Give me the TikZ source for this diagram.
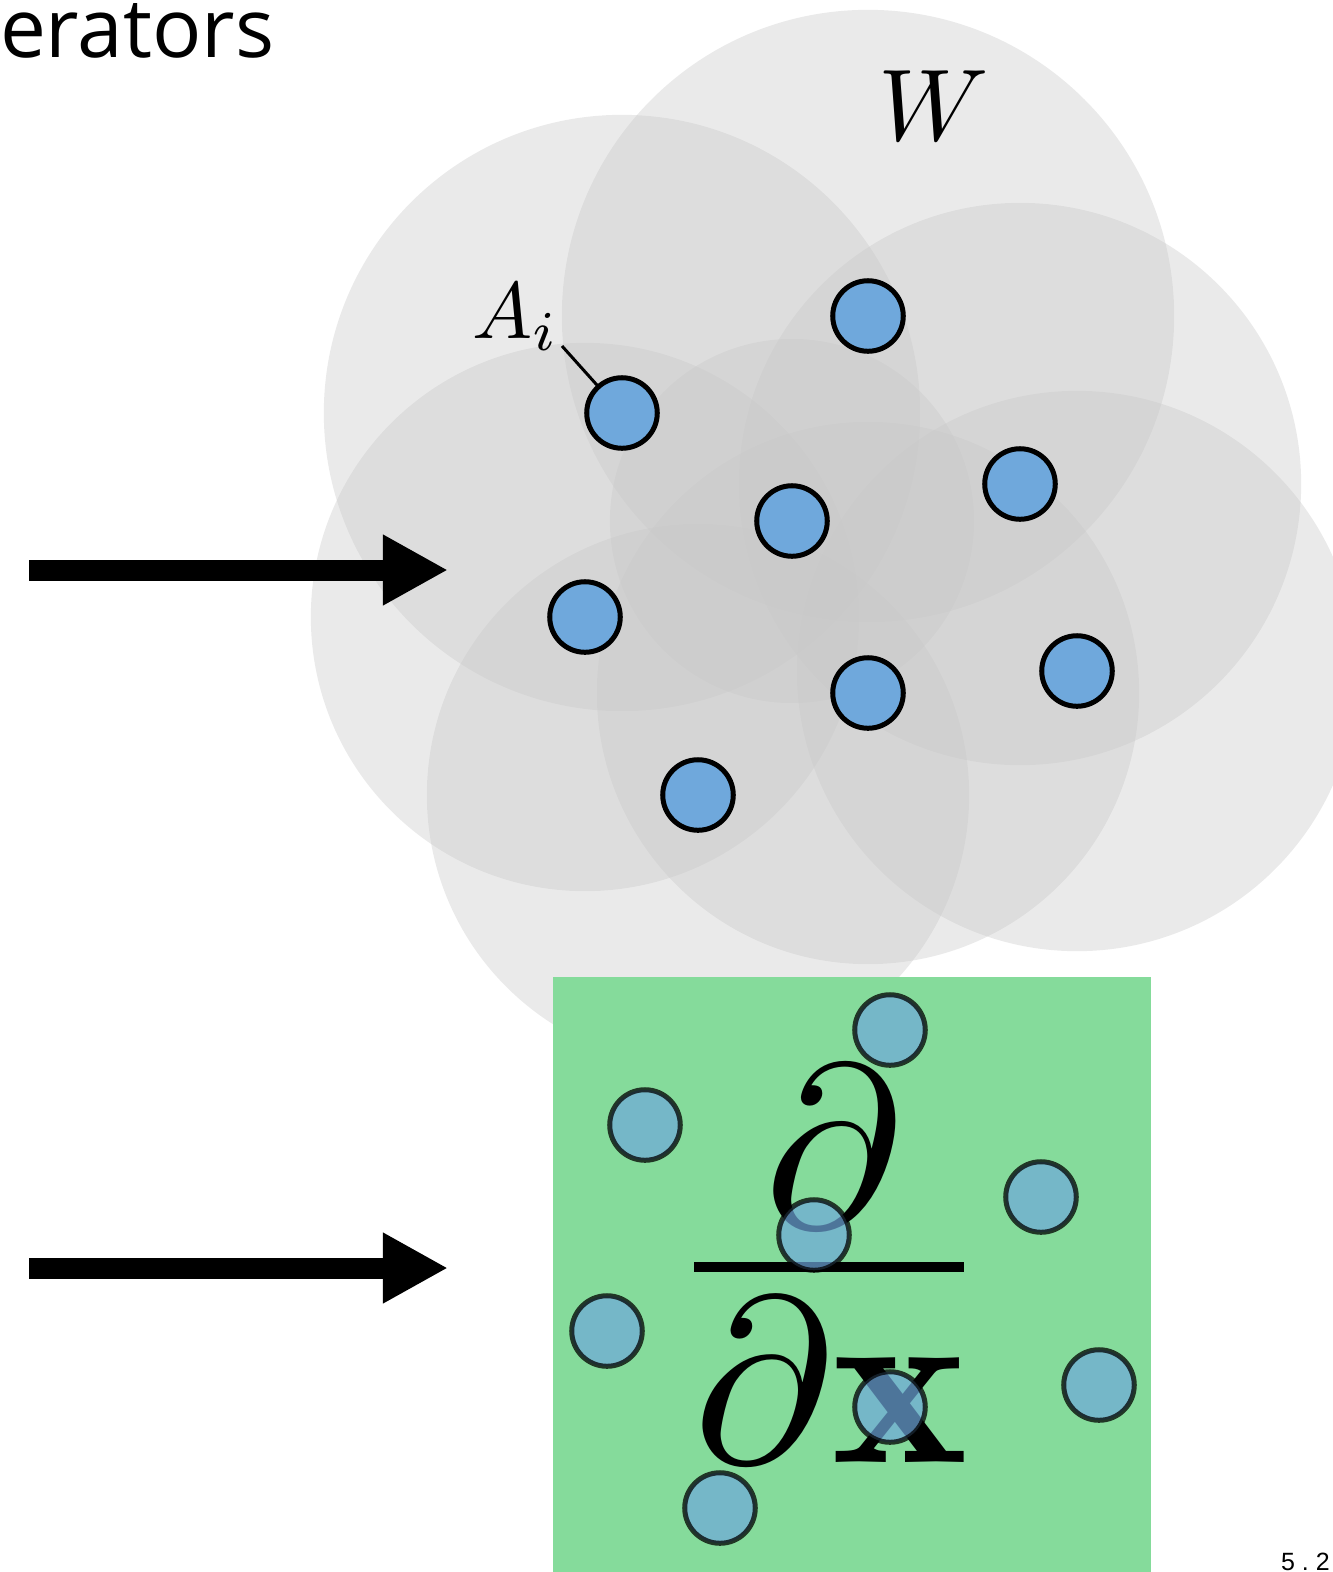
\documentclass[tikz,border=0pt]{standalone}
\usepackage{graphicx}
\usepackage{fontspec}
\newfontfamily\opensans{Open Sans}
\newfontfamily\libsans{Liberation Sans}
\usetikzlibrary{arrows.meta}
\definecolor{dotblue}{RGB}{111,168,220}
\definecolor{boxgreen}{RGB}{133,219,155}
\definecolor{discgray}{RGB}{200,200,200}
\begin{document}
\begin{tikzpicture}[x=0.01cm,y=-0.01cm,
  disc/.style={fill=discgray,fill opacity=0.38},
  dot/.style={circle,draw=black,fill=dotblue,line width=0.05cm,minimum size=0.705cm,inner sep=0pt,outer sep=0pt},
  gdot/.style={dot,fill opacity=0.7,draw opacity=0.75},
  bigarrow/.style={line width=0.21cm,-{Triangle[length=0.65cm,width=0.66cm]}},
  lbl/.style={inner sep=0pt,outer sep=0pt}]
\useasboundingbox (0,0) rectangle (1333,1572);
% centres
\coordinate (p1) at (868,316);
\coordinate (p2) at (622,413);
\coordinate (p3) at (1020,484);
\coordinate (p4) at (792,521);
\coordinate (p5) at (585,617);
\coordinate (p6) at (1077,671);
\coordinate (p7) at (868,693);
\coordinate (p8) at (698,795);
% gray discs
\fill[disc] (p1) circle[radius=3.06cm];
\fill[disc] (p2) circle[radius=2.98cm];
\fill[disc] (p3) circle[radius=2.81cm];
\fill[disc] (p4) circle[radius=1.82cm];
\fill[disc] (p5) circle[radius=2.74cm];
\fill[disc] (p6) circle[radius=2.80cm];
\fill[disc] (p7) circle[radius=2.71cm];
\fill[disc] (p8) circle[radius=2.71cm];
% dots
\node[dot] (d1) at (p1) {};
\node[dot] (d2) at (p2) {};
\node[dot] (d3) at (p3) {};
\node[dot] (d4) at (p4) {};
\node[dot] (d5) at (p5) {};
\node[dot] (d6) at (p6) {};
\node[dot] (d7) at (p7) {};
\node[dot] (d8) at (p8) {};
% labels
\node[lbl,anchor=base west] (ai) at (472,338) {\scalebox{2.28}{$A_i$}};
\coordinate (lead) at (562,346);
\draw[line width=0.03cm] (lead) -- (d2);
\node[lbl,anchor=base] (w) at (934,140) {\scalebox{2.9}{$W$}};
\node[lbl,anchor=base west,font=\opensans\fontsize{23.3}{28}\selectfont] (title) at (0,57) {erators};
% green box
\node[fill=boxgreen,minimum width=5.98cm,minimum height=5.95cm,inner sep=0pt,outer sep=0pt] (box) at (852,1274.5) {};
% fraction d / dx
\node[lbl,anchor=base] (num) at (833,1227) {\scalebox{6.6}{$\partial$}};
\coordinate (barl) at (694,1267);
\coordinate (barr) at (964,1267);
\draw[line width=0.1cm] (barl) -- (barr);
\node[lbl,anchor=base] (den) at (831,1462) {\scalebox{6.71}{$\partial\scalebox{1.1}[1]{$\mathbf{x}$}$}};
\node[gdot] (g1) at (890,1030) {};
\node[gdot] (g2) at (645,1125) {};
\node[gdot] (g3) at (1041,1197) {};
\node[gdot] (g4) at (814,1235) {};
\node[gdot] (g5) at (607,1331) {};
\node[gdot] (g6) at (1099,1385) {};
\node[gdot] (g7) at (890,1407) {};
\node[gdot] (g8) at (720,1508) {};
% arrows
\coordinate (a1s) at (29,570);
\coordinate (a1e) at (448,570);
\coordinate (a2s) at (29,1268);
\coordinate (a2e) at (448,1268);
\draw[bigarrow] (a1s) -- (a1e);
\draw[bigarrow] (a2s) -- (a2e);
% page number
\node[lbl,anchor=base west,font=\libsans\fontsize{7.1}{8.5}\selectfont] (pg) at (1281,1570) {5\kern0.07cm.\kern0.07cm2};
\end{tikzpicture}
\end{document}
